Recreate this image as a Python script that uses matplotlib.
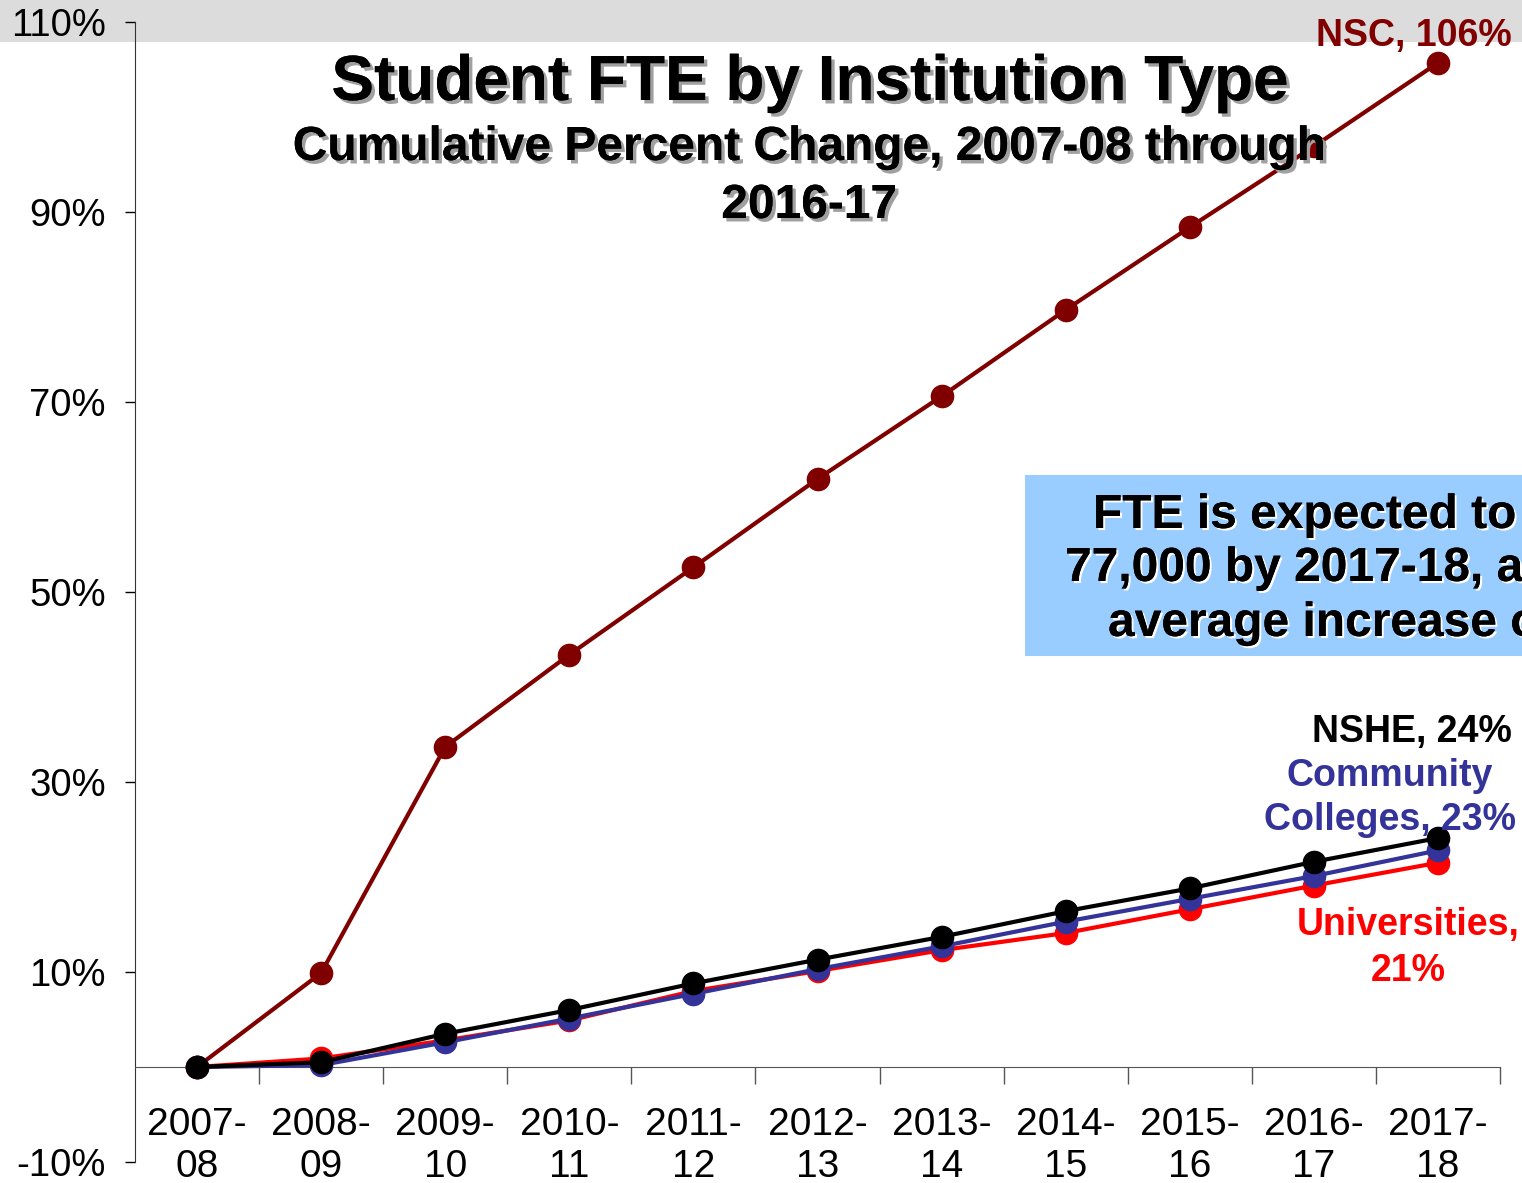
import matplotlib
matplotlib.use("Agg")
import matplotlib.pyplot as plt
import matplotlib.patheffects as pe
from matplotlib.patches import Rectangle
from matplotlib.ticker import FixedLocator

plt.rcParams['font.family'] = ['Liberation Sans', 'DejaVu Sans']

# categories (two-line labels as on the slide)
years = ["2007-\n08", "2008-\n09", "2009-\n10", "2010-\n11", "2011-\n12", "2012-\n13",
         "2013-\n14", "2014-\n15", "2015-\n16", "2016-\n17", "2017-\n18"]

# cumulative percent change
nsc = [0, 9.9, 33.7, 43.4, 52.6, 61.9, 70.6, 79.7, 88.4, 96.9, 105.7]
universities = [0, 0.9, 2.8, 4.9, 8.0, 10.1, 12.3, 14.1, 16.6, 19.1, 21.5]
community = [0, 0.2, 2.6, 5.1, 7.7, 10.3, 12.7, 15.3, 17.7, 20.1, 22.8]
nshe = [0, 0.5, 3.5, 6.0, 8.8, 11.3, 13.7, 16.4, 18.8, 21.6, 24.1]

y_ticks = [-10, 10, 30, 50, 70, 90, 110]

W, H = 1522, 1183
fig = plt.figure(figsize=(W / 100, H / 100), dpi=100)
fig.patch.set_facecolor("white")

# marble-ish band across the top of the slide
fig.patches.append(Rectangle((0, 1 - 42 / H), 1, 42 / H, transform=fig.transFigure,
                             facecolor="#dcdcdc", edgecolor="none", zorder=-5))

ax = fig.add_axes([135 / W, 21 / H, (1500 - 135) / W, (1162 - 22) / H])
ax.patch.set_alpha(0)

x = list(range(len(years)))
series = [
    (nsc, "#800000"),
    (universities, "#ff0000"),
    (community, "#333399"),
    (nshe, "#000000"),
]
for vals, col in series:
    ax.plot(x, vals, color=col, lw=3, marker="o", markersize=16, zorder=3)

ax.set_xlim(-0.5, len(years) - 0.5)
ax.set_ylim(-10, 110)

# y axis
ax.set_yticks(y_ticks)
ax.set_yticklabels([f"{v}%" for v in y_ticks])
ax.tick_params(axis="y", direction="out", length=7, width=1, pad=14, labelsize=27.5)

# x axis: ticks on the category boundaries, labels at the centres
ax.xaxis.set_major_locator(FixedLocator([i + 0.5 for i in x]))
ax.xaxis.set_minor_locator(FixedLocator(x))
ax.set_xticklabels([], minor=False)
ax.set_xticklabels(years, minor=True, linespacing=1.25)
ax.tick_params(axis="x", which="major", direction="out", length=12, width=1, color="#555555")
ax.tick_params(axis="x", which="minor", length=0, pad=29, labelsize=28)

ax.spines["bottom"].set_position(("data", 0))
ax.spines["bottom"].set_color("#555555")
ax.spines["left"].set_color("#333333")
ax.spines["top"].set_visible(False)
ax.spines["right"].set_visible(False)

# titles
shadow = [pe.withSimplePatchShadow(offset=(2.5, -2.5), shadow_rgbFace="#a0a0a0", alpha=1), pe.Normal()]
fig.text(810 / W, 1 - 100 / H, "Student FTE by Institution Type", ha="center", va="baseline",
         fontsize=46, fontweight="bold", path_effects=shadow)
fig.text(809 / W, 1 - 160 / H, "Cumulative Percent Change, 2007-08 through", ha="center",
         va="baseline", fontsize=34.5, fontweight="bold", path_effects=shadow)
fig.text(809 / W, 1 - 218 / H, "2016-17", ha="center", va="baseline",
         fontsize=34.5, fontweight="bold", path_effects=shadow)

# blue call-out box (runs off the right edge of the slide)
fig.patches.append(Rectangle((1025 / W, 1 - 656 / H), (W - 1025) / W, 181 / H,
                             transform=fig.transFigure, facecolor="#99ccff",
                             edgecolor="none", zorder=1))
glow = [pe.withSimplePatchShadow(offset=(1.5, -1.5), shadow_rgbFace="white", alpha=1), pe.Normal()]
box_lines = [("FTE is expected to", 1093, 528), ("77,000 by 2017-18, a", 1065, 581),
             ("average increase o", 1108, 636)]
for txt, px, py in box_lines:
    fig.text(px / W, 1 - py / H, txt, ha="left", va="baseline", fontsize=34.5,
             fontweight="bold", path_effects=glow, zorder=2)

# end-of-line labels, anchored on the last point of each series
# (for two-line labels the offset is to the baseline of the last line)
last = len(years) - 1
lab = dict(textcoords="offset pixels", fontsize=27, fontweight="bold", va="baseline")
ax.annotate("NSC, 106%", (last, nsc[-1]), xytext=(74, 17), ha="right", color="#800000", **lab)
ax.annotate("NSHE, 24%", (last, nshe[-1]), xytext=(74, 96), ha="right", color="black", **lab)
ax.annotate("Community\nColleges, 23%", (last, community[-1]), xytext=(-48, 20), ha="center",
            multialignment="center", linespacing=1.3, color="#333399", **lab)
ax.annotate("Universities,\n21%", (last, universities[-1]), xytext=(-30, -118), ha="center",
            multialignment="center", linespacing=1.35, color="#ff0000", **lab)

fig.savefig("out.png", dpi=100)
